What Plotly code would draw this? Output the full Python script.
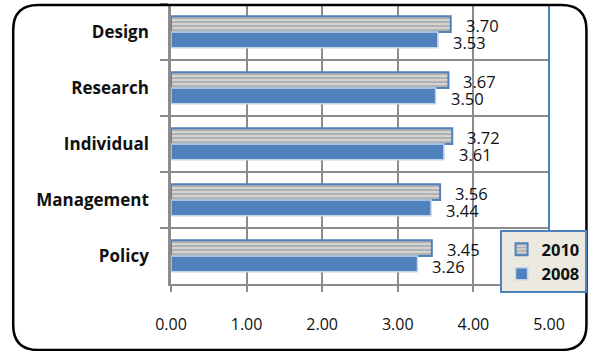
import plotly.graph_objects as go

# Survey scores by area
categories = ["Design", "Research", "Individual", "Management", "Policy"]
scores_2010 = [3.70, 3.67, 3.72, 3.56, 3.45]
scores_2008 = [3.53, 3.50, 3.61, 3.44, 3.26]
x_ticks = [0, 1, 2, 3, 4, 5]
x_tick_labels = ["0.00", "1.00", "2.00", "3.00", "4.00", "5.00"]

W, H = 589, 351
L, R, T, B = 171, 39.5, 4, 67
PW, PH = W - L - R, H - T - B

BLUE = "#4F81BD"
GRID = "#8C8C8C"
FONT = "Open Sans"


def px(x):
    return (x - L) / PW


def py(y):
    return 1 - (y - T) / PH


fig = go.Figure()

fig.add_trace(go.Bar(
    name="2010", y=categories, x=scores_2010, orientation="h",
    marker=dict(
        color="#D4D4D4",
        line=dict(color=BLUE, width=2),
        pattern=dict(shape="-", fgcolor="#5E5E5E", size=4, solidity=0.3,
                     fillmode="overlay"),
    ),
))
fig.add_trace(go.Bar(
    name="2008", y=categories, x=scores_2008, orientation="h",
    marker=dict(color=BLUE, line=dict(color="#C3D3EA", width=1.5)),
))

# Value labels beside each bar
annotations = []
for cat, v in zip(categories, scores_2010):
    annotations.append(dict(x=v, y=cat, xref="x", yref="y", text=f"{v:.2f}",
                            showarrow=False, xanchor="left", yanchor="middle",
                            xshift=13, yshift=7,
                            font=dict(family=FONT, size=16.5, color="#111")))
for cat, v in zip(categories, scores_2008):
    annotations.append(dict(x=v, y=cat, xref="x", yref="y", text=f"{v:.2f}",
                            showarrow=False, xanchor="left", yanchor="middle",
                            xshift=13, yshift=-10,
                            font=dict(family=FONT, size=16.5, color="#111")))

# Rounded outer frame
fl, fr, ft, fb, rad = 13, 587, 5, 350, 25
frame = (
    f"M {px(fl + rad)},{py(ft)} L {px(fr - rad)},{py(ft)} "
    f"Q {px(fr)},{py(ft)} {px(fr)},{py(ft + rad)} "
    f"L {px(fr)},{py(fb - rad)} Q {px(fr)},{py(fb)} {px(fr - rad)},{py(fb)} "
    f"L {px(fl + rad)},{py(fb)} Q {px(fl)},{py(fb)} {px(fl)},{py(fb - rad)} "
    f"L {px(fl)},{py(ft + rad)} Q {px(fl)},{py(ft)} {px(fl + rad)},{py(ft)} Z"
)

shapes = [
    dict(type="line", xref="paper", yref="paper", x0=1, x1=1, y0=0, y1=1,
         line=dict(color=BLUE, width=2), layer="above"),
    dict(type="path", xref="paper", yref="paper", path=frame,
         line=dict(color="black", width=2.5), layer="above"),
]

fig.update_layout(
    width=W, height=H,
    margin=dict(l=L, r=R, t=T, b=B, pad=0, autoexpand=False),
    paper_bgcolor="white", plot_bgcolor="white",
    barmode="group", bargap=0.44, bargroupgap=0,
    font=dict(family=FONT, size=16, color="#111"),
    showlegend=True,
    legend=dict(
        x=px(500), y=py(230), xanchor="left", yanchor="top",
        bgcolor="#ECEAE0", bordercolor=BLUE, borderwidth=2,
        font=dict(family=FONT, size=16.5, color="#111", weight="bold"),
        traceorder="normal", itemwidth=30, tracegroupgap=0,
    ),
    annotations=annotations,
    shapes=shapes,
)

fig.update_xaxes(
    range=[0, 5], tickvals=x_ticks, ticktext=x_tick_labels,
    showgrid=True, gridcolor=GRID, gridwidth=2,
    showline=True, linecolor=GRID, linewidth=2,
    ticks="outside", ticklen=6, tickcolor=GRID, tickwidth=2,
    ticklabelstandoff=19, zeroline=False,
    tickfont=dict(family=FONT, size=16, color="#111"),
)
fig.update_yaxes(
    type="category", categoryorder="array", categoryarray=categories,
    autorange="reversed", tickson="boundaries",
    showgrid=True, gridcolor=GRID, gridwidth=2,
    showline=True, linecolor=GRID, linewidth=2.5,
    ticks="outside", ticklen=8, tickcolor=GRID, tickwidth=2,
    ticklabelstandoff=16,
    tickfont=dict(family=FONT, size=17, color="#111", weight="bold"),
)

fig.write_html("out.html")
